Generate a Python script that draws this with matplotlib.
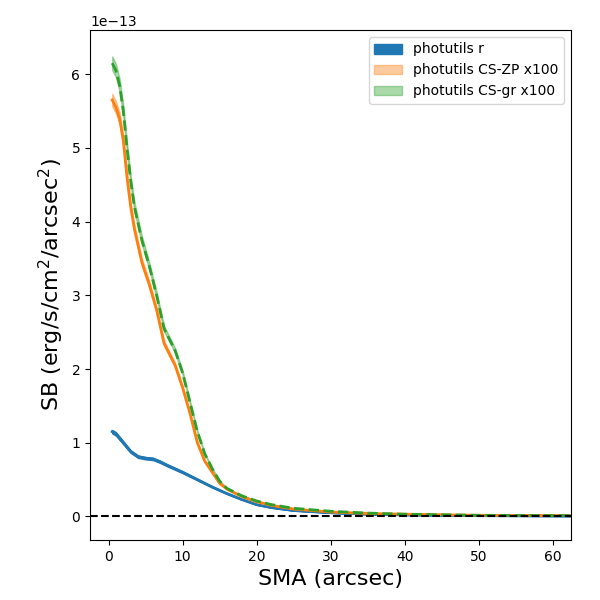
import numpy as np
import matplotlib
matplotlib.use("Agg")
import matplotlib.pyplot as plt

sma_r = [0.5,1,2,3,4,5,6,7,8,10,12,14,16,18,20,22,25,30,35,40,50,62.5]
sb_r = [1.15,1.12,1.0,0.88,0.81,0.79,0.78,0.74,0.69,0.6,0.5,0.4,0.31,0.23,0.16,0.12,0.08,0.05,0.03,0.02,0.01,0.005]
sma_c = [0.5,1,1.5,2,2.5,3,3.5,4.5,5.5,6.5,7.5,9,10,11,12,13,14,15,16,18,20,22,25,30,35,40,50,62.5]
sb_zp = [5.65,5.55,5.4,5.1,4.6,4.2,3.9,3.45,3.15,2.8,2.35,2.05,1.75,1.4,1.0,0.75,0.6,0.45,0.37,0.27,0.2,0.15,0.1,0.06,0.04,0.03,0.015,0.01]
sb_gr = [6.15,6.05,5.85,5.5,5.0,4.55,4.2,3.75,3.4,3.0,2.55,2.25,1.95,1.55,1.15,0.85,0.65,0.48,0.38,0.28,0.21,0.16,0.11,0.07,0.045,0.03,0.015,0.01]

scale = 1e-13
r = np.array(sb_r)*scale
zp = np.array(sb_zp)*scale
gr = np.array(sb_gr)*scale

fig = plt.figure(figsize=(6,6), dpi=100)
ax = fig.add_axes([0.15,0.1,0.802,0.85])
ax.fill_between(sma_r, r*0.98, r*1.02, color='C0', label='photutils r')
ax.fill_between(sma_c, zp*0.985, zp*1.015, color='C1', alpha=0.4, label='photutils CS-ZP x100')
ax.fill_between(sma_c, gr*0.985, gr*1.015, color='C2', alpha=0.4, label='photutils CS-gr x100')
ax.plot(sma_r, r, color='C0', lw=2)
ax.plot(sma_c, zp, color='C1', lw=2)
ax.plot(sma_c, gr, color='C2', lw=2, ls='--')
ax.axhline(0, color='k', ls='--')
ax.set_xlim(-2.5, 62.5)
ax.set_ylim(-0.32e-13, 6.6e-13)
ax.set_xlabel('SMA (arcsec)', fontsize=16)
ax.set_ylabel(r'SB (erg/s/cm$^2$/arcsec$^2$)', fontsize=16)
ax.legend(loc='upper right')
fig.savefig('out.png')
